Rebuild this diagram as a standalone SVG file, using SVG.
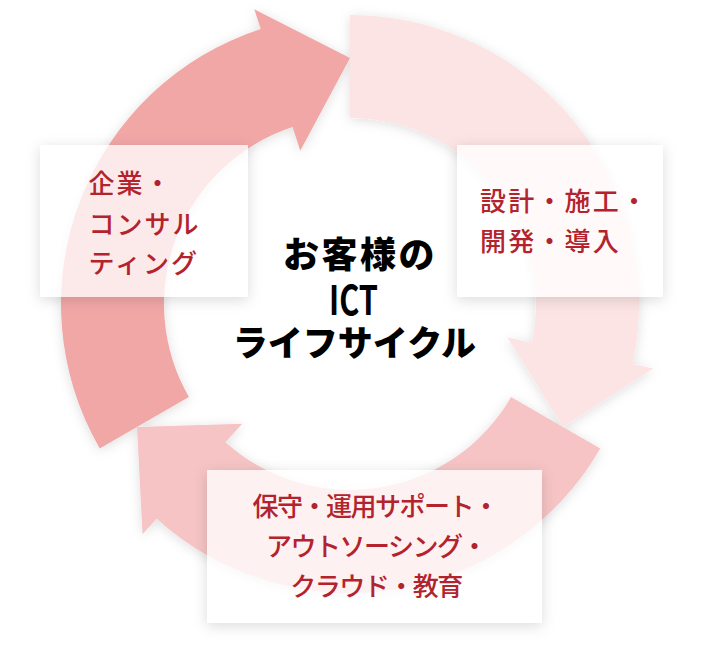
<svg xmlns="http://www.w3.org/2000/svg" width="704" height="665" viewBox="0 0 704 665">
<defs>
<filter id="ash" x="-20%" y="-20%" width="140%" height="140%">
<feDropShadow dx="0" dy="2" stdDeviation="6" flood-color="#000" flood-opacity="0.13"/>
</filter>
<filter id="bsh" x="-20%" y="-30%" width="140%" height="160%" color-interpolation-filters="sRGB">
<feColorMatrix in="SourceAlpha" type="matrix" values="0 0 0 0 0  0 0 0 0 0  0 0 0 0 0  0 0 0 10 0" result="a"/>
<feGaussianBlur in="a" stdDeviation="7" result="bl"/>
<feOffset in="bl" dy="3" result="o"/>
<feComposite in="o" in2="a" operator="out" result="cut"/>
<feColorMatrix in="cut" type="matrix" values="0 0 0 0 0  0 0 0 0 0  0 0 0 0 0  0 0 0 0.14 0" result="sh"/>
<feMerge><feMergeNode in="sh"/><feMergeNode in="SourceGraphic"/></feMerge>
</filter>
<path id="arrow" d="M350,15 A289,289 0 0 1 632.7,364.1 L653.2,368.5 L563,427 L507.5,337.5 L531.9,342.7 A186,186 0 0 0 350,118 Z"/>
</defs>
<style>
.box{fill:#fff;fill-opacity:0.76;filter:url(#bsh)}
.lbl{font-family:"Noto Sans CJK JP","Noto Sans CJK SC",sans-serif;font-size:26px;font-weight:500;fill:#b3232d}
.ctr{font-family:"Noto Sans CJK JP","Noto Sans CJK SC",sans-serif;fill:#000;text-anchor:middle}
</style>
<rect width="704" height="665" fill="#fff"/>
<g id="connectors" filter="url(#ash)">
<use href="#arrow" fill="#f2a7a7" transform="rotate(240 350 304)"/>
<use href="#arrow" fill="#fce4e4"/>
<use href="#arrow" fill="#f6c4c4" transform="rotate(120 350 304)"/>
</g>
<g id="node-consulting">
<rect class="box" x="40" y="145" width="208" height="152"/>
<text class="lbl" letter-spacing="2"><tspan x="88.5" y="193">企業・</tspan><tspan x="88.5" y="234">コンサル</tspan><tspan x="88.5" y="273">ティング</tspan></text>
</g>
<g id="node-design">
<rect class="box" x="457" y="145" width="206" height="152"/>
<text class="lbl" letter-spacing="2.2"><tspan x="480" y="211">設計・施工・</tspan><tspan x="480" y="250.5">開発・導入</tspan></text>
</g>
<g id="node-operation">
<rect class="box" x="207" y="470" width="335" height="153"/>
<text class="lbl" text-anchor="middle" font-size="25" letter-spacing="-1.5"><tspan x="375" y="516">保守・運用サポート・</tspan><tspan x="376" y="556">アウトソーシング・</tspan><tspan x="376" y="596">クラウド・教育</tspan></text>
</g>
<g id="node-center">
<text class="ctr" x="360" y="267.5" font-size="36" font-weight="900" letter-spacing="2.5">お客様の</text>
<text class="ctr" x="353.5" y="315" font-family="'Liberation Sans',Arial,sans-serif" font-size="41" font-weight="700" textLength="49" lengthAdjust="spacingAndGlyphs">ICT</text>
<text class="ctr" x="354.5" y="356" font-size="35" font-weight="900">ライフサイクル</text>
</g>
</svg>
